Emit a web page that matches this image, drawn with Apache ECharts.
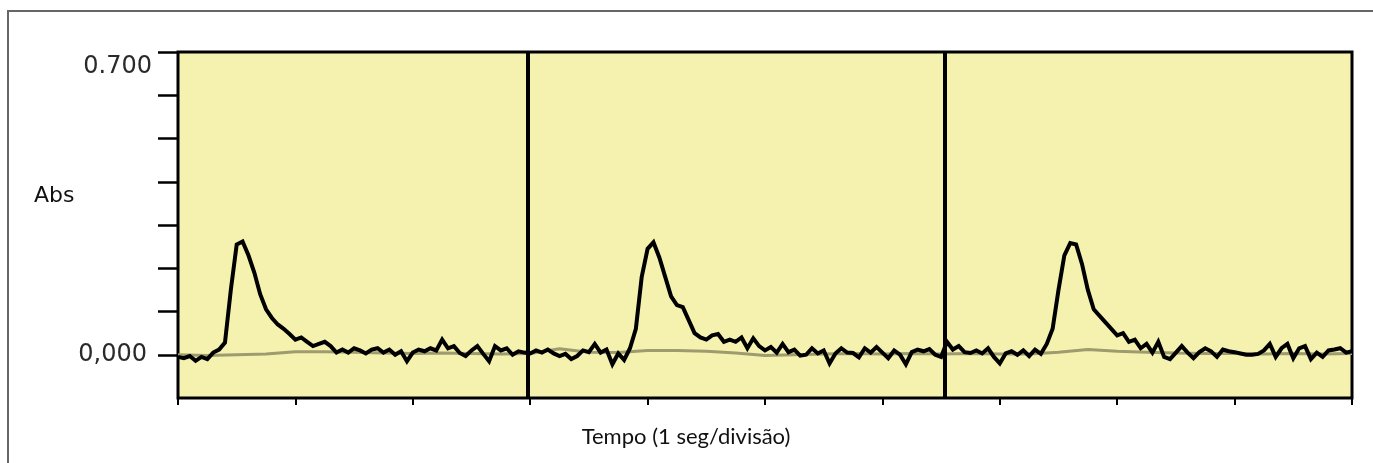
<!DOCTYPE html>
<html>
<head>
<meta charset="utf-8">
<script src="https://cdn.jsdelivr.net/npm/echarts@6/dist/echarts.min.js"></script>
<style>
html,body{margin:0;padding:0;background:#fff;}
#chart{width:1373px;height:463px;}
</style>
</head>
<body>
<div id="chart"></div>
<script>
// Sampling of the recorded signal (seconds between samples)
const signalSampleStep = 0.05;
const baselineSampleStep = 0.25;

// Absorbance signal (black trace), one value every 0.05 s from 0 to 10 s
const absorbance = [
  -0.005,-0.008,-0.003,-0.014,-0.005,-0.010,0.005,0.012,0.028,0.150,
  0.255,0.262,0.230,0.190,0.140,0.105,0.085,0.070,0.060,0.048,
  0.035,0.040,0.030,0.020,0.025,0.030,0.020,0.005,0.012,0.005,
  0.015,0.010,0.003,0.012,0.015,0.005,0.012,0.000,0.008,-0.015,
  0.005,0.012,0.008,0.015,0.010,0.035,0.015,0.020,0.004,-0.003,
  0.010,0.020,0.002,-0.015,0.020,0.010,0.015,0.000,0.008,0.005,
  0.003,0.010,0.005,0.012,0.003,-0.003,0.002,-0.010,-0.003,0.010,
  0.006,0.025,0.005,0.012,-0.022,0.003,-0.012,0.015,0.060,0.180,
  0.245,0.260,0.225,0.180,0.135,0.115,0.110,0.080,0.050,0.040,
  0.035,0.045,0.048,0.030,0.035,0.030,0.040,0.015,0.038,0.020,
  0.010,0.018,0.005,0.025,0.006,0.012,-0.002,0.000,0.015,0.003,
  0.010,-0.020,0.003,0.015,0.005,0.004,-0.006,0.015,0.005,0.018,
  0.005,-0.008,0.010,0.000,-0.022,0.006,0.012,0.008,0.013,0.000,
  -0.005,0.030,0.012,0.020,0.006,0.004,0.010,0.003,0.015,-0.005,
  -0.020,0.003,0.008,0.000,0.010,-0.003,0.012,0.002,0.025,0.060,
  0.150,0.230,0.258,0.255,0.210,0.150,0.105,0.090,0.075,0.060,
  0.045,0.050,0.030,0.035,0.015,0.025,0.005,0.030,-0.005,-0.010,
  0.005,0.020,0.005,-0.008,0.006,0.015,0.008,-0.005,0.012,0.008,
  0.006,0.003,0.000,0.000,0.002,0.010,0.025,-0.005,0.015,0.025,
  -0.008,0.015,0.020,-0.010,0.005,-0.005,0.010,0.012,0.015,0.005,
  0.008
];

// Background trace (grey-olive), one value every 0.25 s from 0 to 10 s
const background = [
  0.000,-0.002,0.000,0.002,0.007,0.007,0.006,0.004,0.003,0.004,
  0.003,0.002,0.003,0.014,0.006,0.005,0.010,0.010,0.008,0.004,
  -0.002,0.000,0.002,0.003,0.002,0.003,0.002,0.003,0.002,0.002,
  0.006,0.012,0.008,0.006,0.004,0.003,0.003,0.002,0.003,0.002,
  0.003
];

// Vertical dividers between the three recordings (seconds)
const dividerTimes = [2.98, 6.53];

// Axis ticks
const yTickValues = [0, 0.1, 0.2, 0.3, 0.4, 0.5, 0.6, 0.7];
const yLabelValues = [0, 0.7];
const yLabelTexts = ['0,000', '0.700'];
const xTickValues = [0, 1, 2, 3, 4, 5, 6, 7, 8, 9, 10];

const yAxisName = 'Abs';
const xAxisName = 'Tempo (1 seg/divisão)';

function toPairs(values, step) {
  return values.map((v, i) => [+(i * step).toFixed(4), v]);
}

const chart = echarts.init(document.getElementById('chart'), null, {renderer: 'canvas'});

chart.setOption({
  animation: false,
  backgroundColor: '#ffffff',
  grid: {
    left: 178, top: 52, right: 21, bottom: 65,
    show: true,
    backgroundColor: '#f5f2b0',
    borderColor: '#000000',
    borderWidth: 3
  },
  xAxis: {
    type: 'value',
    position: 'bottom',
    min: 0, max: 10, interval: 1,
    axisLine: {show: false, onZero: false},
    axisTick: {show: true, customValues: xTickValues, length: 7, lineStyle: {color: '#000', width: 2}},
    axisLabel: {show: false},
    splitLine: {show: false}
  },
  yAxis: {
    type: 'value',
    min: -0.1, max: 0.7, interval: 0.1,
    axisLine: {show: false, onZero: false},
    axisTick: {show: true, customValues: yTickValues, length: 20, lineStyle: {color: '#000', width: 2.5}},
    axisLabel: {
      show: true,
      customValues: yLabelValues,
      margin: 26,
      fontFamily: 'DejaVu Sans',
      fontSize: 24,
      color: '#2a2a2a',
      formatter: function (v) {
        for (let i = 0; i < yLabelValues.length; i++) {
          if (Math.abs(v - yLabelValues[i]) < 1e-6) {
            return i === yLabelValues.length - 1 ? '{top|' + yLabelTexts[i] + '}' : '{zero|' + yLabelTexts[i] + '}';
          }
        }
        return '';
      },
      rich: {
        top: {fontFamily: 'DejaVu Sans', fontSize: 24, color: '#2a2a2a', padding: [30, 0, 0, 0]},
        zero: {fontFamily: 'DejaVu Sans', fontSize: 24, color: '#2a2a2a', padding: [0, 5, 0, 0]}
      }
    },
    splitLine: {show: false}
  },
  series: [
    {
      type: 'line',
      data: toPairs(background, baselineSampleStep),
      showSymbol: false,
      symbol: 'none',
      z: 2,
      lineStyle: {color: '#9e9b6e', width: 3},
      silent: true
    },
    {
      type: 'line',
      data: toPairs(absorbance, signalSampleStep),
      showSymbol: false,
      symbol: 'none',
      z: 3,
      lineStyle: {color: '#000000', width: 4, join: 'miter'},
      silent: true,
      markLine: {
        silent: true,
        symbol: ['none', 'none'],
        label: {show: false},
        lineStyle: {color: '#000000', width: 4, type: 'solid'},
        data: dividerTimes.map(t => ({xAxis: t}))
      }
    }
  ],
  graphic: [
    {
      type: 'rect',
      shape: {x: 8, y: 11, width: 1400, height: 500},
      style: {fill: 'none', stroke: '#666666', lineWidth: 2},
      silent: true
    },
    {
      type: 'text',
      x: 34, y: 196,
      style: {text: yAxisName, font: '22px "DejaVu Sans"', fill: '#111', verticalAlign: 'middle'}
    },
    {
      type: 'text',
      x: 686, y: 437,
      style: {text: xAxisName, font: '22px Lato', fill: '#111', align: 'center', verticalAlign: 'middle'}
    }
  ]
});
</script>
</body>
</html>
